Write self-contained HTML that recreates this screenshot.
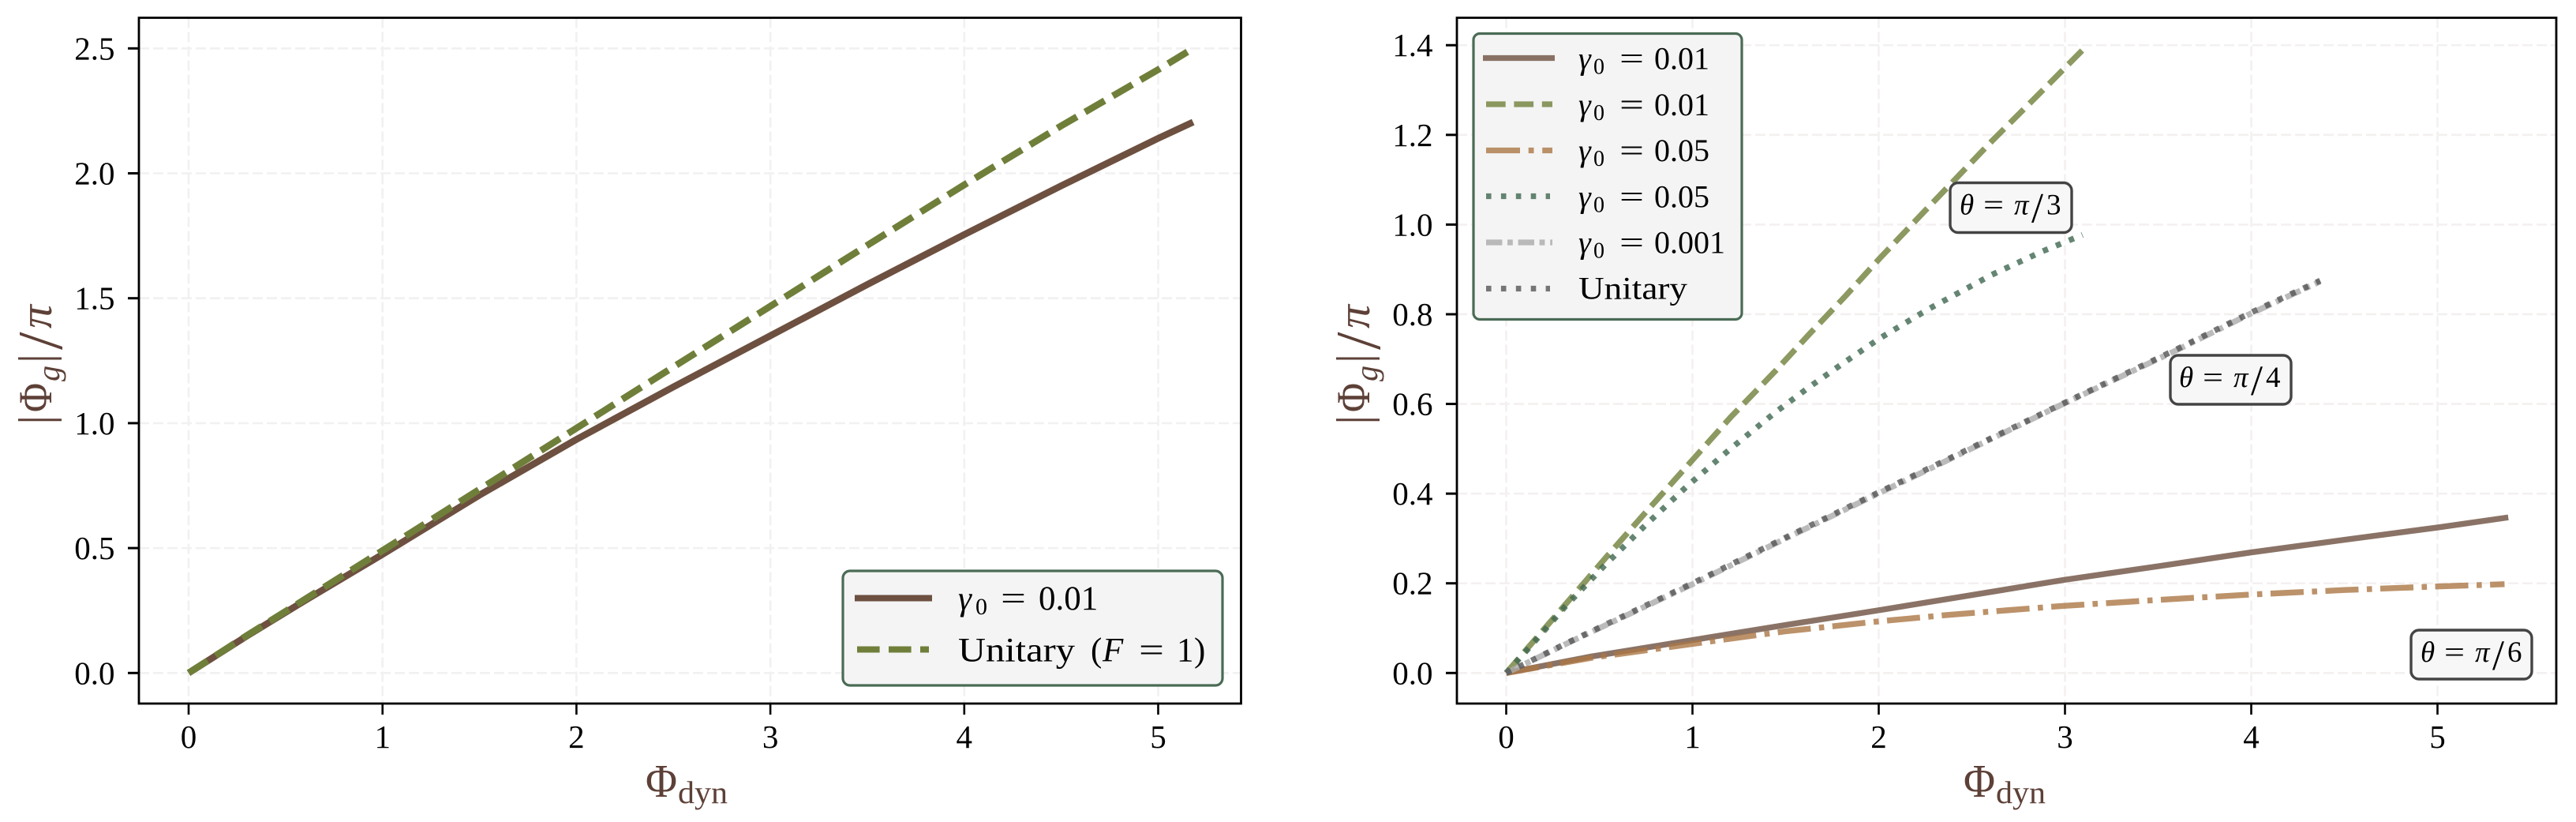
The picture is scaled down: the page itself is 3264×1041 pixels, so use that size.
<!DOCTYPE html>
<html lang="en">
<head>
<meta charset="utf-8">
<title>Geometric phase versus dynamical phase</title>
<style>
html,body{margin:0;padding:0;background:#fff;}
body{width:3264px;height:1041px;overflow:hidden;}
svg{display:block;font-family:"Liberation Serif","DejaVu Serif",serif;}
.tick{font-size:41px;fill:#000;}
.lab{fill:#5d4037;}
.it{font-style:italic;}
</style>
</head>
<body>
<svg id="figure" xmlns="http://www.w3.org/2000/svg" width="3264" height="1041" viewBox="0 0 3264 1041">
  <rect x="0" y="0" width="3264" height="1041" fill="#ffffff"/>

  <g id="left-panel">
    <g id="left-grid"></g>
    <g id="left-series"></g>
    <g id="left-axes"></g>

    <g class="lab">
      <text x="818" y="1009" font-size="59" textLength="40" lengthAdjust="spacingAndGlyphs">Φ</text>
      <text x="859" y="1017" font-size="40" textLength="63" lengthAdjust="spacingAndGlyphs">dyn</text>
    </g>
    <g class="lab" transform="translate(65,0) rotate(-90)">
      <text x="-537.7" y="0" font-size="60">|</text>
      <text x="-522" y="0" font-size="60" textLength="37" lengthAdjust="spacingAndGlyphs">Φ</text>
      <text x="-483" y="10" font-size="40" class="it">g</text>
      <text x="-460" y="0" font-size="60">|</text>
      <text x="-443" y="13" font-size="81">/</text>
      <text x="-416" y="0" font-size="58" class="it" textLength="30" lengthAdjust="spacingAndGlyphs">π</text>
    </g>

    <g>
      <rect x="1068" y="723" width="481" height="145" rx="9" fill="#f4f4f4" stroke="#4a6b55" stroke-width="3.2"/>
      <line x1="1083" x2="1181" y1="757.5" y2="757.5" stroke="#6d5040" stroke-width="8"/>
      <line x1="1086" x2="1177" y1="822.5" y2="822.5" stroke="#6f7f3a" stroke-width="8" stroke-dasharray="28.6,11.4"/>
      <g font-size="43">
        <text x="1214" y="772" class="it">γ</text>
        <text x="1236" y="778" font-size="30">0</text>
        <text x="1268" y="772" textLength="32" lengthAdjust="spacingAndGlyphs">=</text>
        <text x="1316" y="772">0.01</text>
      </g>
      <g font-size="43">
        <text x="1214" y="837.5" textLength="148" lengthAdjust="spacingAndGlyphs">Unitary</text>
        <text x="1382" y="837.5">(</text>
        <text x="1397" y="837.5" class="it">F</text>
        <text x="1443" y="837.5" textLength="32" lengthAdjust="spacingAndGlyphs">=</text>
        <text x="1491" y="837.5">1</text>
        <text x="1513" y="837.5">)</text>
      </g>
    </g>
  </g>

  <g id="right-panel">
    <g id="right-grid"></g>
    <g id="right-series"></g>
    <g id="right-axes"></g>

    <g class="lab">
      <text x="2488" y="1009" font-size="59" textLength="40" lengthAdjust="spacingAndGlyphs">Φ</text>
      <text x="2529" y="1017" font-size="40" textLength="63" lengthAdjust="spacingAndGlyphs">dyn</text>
    </g>
    <g class="lab" transform="translate(1735,0) rotate(-90)">
      <text x="-537.7" y="0" font-size="60">|</text>
      <text x="-522" y="0" font-size="60" textLength="37" lengthAdjust="spacingAndGlyphs">Φ</text>
      <text x="-483" y="10" font-size="40" class="it">g</text>
      <text x="-460" y="0" font-size="60">|</text>
      <text x="-443" y="13" font-size="81">/</text>
      <text x="-416" y="0" font-size="58" class="it" textLength="30" lengthAdjust="spacingAndGlyphs">π</text>
    </g>

    <g transform="translate(2483,271.5)" font-size="37">
      <rect x="-12" y="-40" width="154" height="63" rx="10" fill="#f7f7f7" stroke="#444444" stroke-width="3.4"/>
      <text x="0" y="0" class="it">θ</text>
      <text x="30" y="0" textLength="26" lengthAdjust="spacingAndGlyphs">=</text>
      <text x="69" y="0" class="it">π</text>
      <text x="91" y="10" font-size="54">/</text>
      <text x="110" y="0">3</text>
    </g>
    <g transform="translate(2761,490)" font-size="37">
      <rect x="-11" y="-40" width="153" height="62" rx="10" fill="#f7f7f7" stroke="#444444" stroke-width="3.4"/>
      <text x="0" y="0" class="it">θ</text>
      <text x="30" y="0" textLength="26" lengthAdjust="spacingAndGlyphs">=</text>
      <text x="69" y="0" class="it">π</text>
      <text x="91" y="10" font-size="54">/</text>
      <text x="110" y="0">4</text>
    </g>
    <g transform="translate(3067,838)" font-size="37">
      <rect x="-12" y="-40" width="153" height="62" rx="10" fill="#f7f7f7" stroke="#444444" stroke-width="3.4"/>
      <text x="0" y="0" class="it">θ</text>
      <text x="30" y="0" textLength="26" lengthAdjust="spacingAndGlyphs">=</text>
      <text x="69" y="0" class="it">π</text>
      <text x="91" y="10" font-size="54">/</text>
      <text x="110" y="0">6</text>
    </g>

    <g>
      <rect x="1867" y="42.5" width="340" height="362" rx="8" fill="#f4f4f4" stroke="#4a6b55" stroke-width="3.2"/>
      <line x1="1879" x2="1970" y1="73.5" y2="73.5" stroke="#6d5040" stroke-opacity="0.8" stroke-width="7.2"/>
      <line x1="1883" x2="1967" y1="132" y2="132" stroke="#6f7f3a" stroke-opacity="0.8" stroke-width="7.2" stroke-dasharray="24.7,10.7"/>
      <line x1="1883" x2="1967" y1="190.5" y2="190.5" stroke="#ab7745" stroke-opacity="0.8" stroke-width="7.2" stroke-dasharray="43,10.7,6.8,10.7"/>
      <line x1="1883" x2="1964" y1="248.5" y2="248.5" stroke="#3f6650" stroke-opacity="0.8" stroke-width="7.2" stroke-dasharray="6.6,12.3"/>
      <line x1="1883" x2="1967" y1="307" y2="307" stroke="#aaaaaa" stroke-opacity="0.8" stroke-width="7.2" stroke-dasharray="20.4,6.6,6.8,6.8"/>
      <line x1="1883" x2="1964" y1="365.5" y2="365.5" stroke="#555555" stroke-opacity="0.8" stroke-width="7.2" stroke-dasharray="6.6,12.3"/>

      <g font-size="40">
        <text x="2000" y="87.5" class="it">γ</text>
        <text x="2019" y="93.5" font-size="28">0</text>
        <text x="2052" y="87.5" textLength="31" lengthAdjust="spacingAndGlyphs">=</text>
        <text x="2096" y="87.5">0.01</text>
      </g>
      <g font-size="40">
        <text x="2000" y="146" class="it">γ</text>
        <text x="2019" y="152" font-size="28">0</text>
        <text x="2052" y="146" textLength="31" lengthAdjust="spacingAndGlyphs">=</text>
        <text x="2096" y="146">0.01</text>
      </g>
      <g font-size="40">
        <text x="2000" y="204" class="it">γ</text>
        <text x="2019" y="210" font-size="28">0</text>
        <text x="2052" y="204" textLength="31" lengthAdjust="spacingAndGlyphs">=</text>
        <text x="2096" y="204">0.05</text>
      </g>
      <g font-size="40">
        <text x="2000" y="262.5" class="it">γ</text>
        <text x="2019" y="268.5" font-size="28">0</text>
        <text x="2052" y="262.5" textLength="31" lengthAdjust="spacingAndGlyphs">=</text>
        <text x="2096" y="262.5">0.05</text>
      </g>
      <g font-size="40">
        <text x="2000" y="320.5" class="it">γ</text>
        <text x="2019" y="326.5" font-size="28">0</text>
        <text x="2052" y="320.5" textLength="31" lengthAdjust="spacingAndGlyphs">=</text>
        <text x="2096" y="320.5">0.001</text>
      </g>
      <text x="2000" y="378.5" font-size="40" textLength="138" lengthAdjust="spacingAndGlyphs">Unitary</text>
    </g>
  </g>
</svg>

<script>
// ---- left panel data ----
const leftXTicks = [0, 1, 2, 3, 4, 5];
const leftYTicks = [0, 0.5, 1, 1.5, 2, 2.5];
const leftYTickLabels = ["0.0", "0.5", "1.0", "1.5", "2.0", "2.5"];
const leftPhiDyn = [0, 0.3, 0.6, 1, 1.5, 2, 2.5, 3, 3.5, 4, 4.5, 5, 5.18];
const leftGamma001 = [0, 0.148, 0.29, 0.475, 0.712, 0.935, 1.145, 1.35, 1.555, 1.755, 1.95, 2.14, 2.205];
const leftUnitary = [0, 0.15, 0.295, 0.49, 0.735, 0.98, 1.225, 1.468, 1.712, 1.954, 2.19, 2.415, 2.5];

// ---- right panel data ----
const rightXTicks = [0, 1, 2, 3, 4, 5];
const rightYTicks = [0, 0.2, 0.4, 0.6, 0.8, 1, 1.2, 1.4];
const rightYTickLabels = ["0.0", "0.2", "0.4", "0.6", "0.8", "1.0", "1.2", "1.4"];
const phiDynPi3 = [0, 0.114, 0.316, 0.53, 0.746, 0.972, 1.204, 1.444, 1.628, 1.82, 2.006, 2.265, 2.607, 2.877, 3.094];
const pi3Gamma001 = [0, 0.055, 0.152, 0.255, 0.357, 0.462, 0.57, 0.673, 0.756, 0.84, 0.925, 1.038, 1.186, 1.298, 1.389];
const pi3Gamma005 = [0, 0.052, 0.1476, 0.2405, 0.329, 0.417, 0.5, 0.581, 0.638, 0.694, 0.7465, 0.811, 0.888, 0.94, 0.977];
const phiDynPi4 = [0, 0.352, 1, 1.5, 2.006, 2.307, 2.985, 3.6, 4, 4.37];
const pi4Gamma0001 = [0, 0.071, 0.198, 0.3, 0.402, 0.462, 0.599, 0.72, 0.802, 0.873];
const pi4Unitary = [0, 0.072, 0.2, 0.302, 0.404, 0.464, 0.6, 0.722, 0.804, 0.875];
const phiDynPi6Solid = [0, 0.46, 1, 1.5, 2.006, 2.32, 2.985, 3.5, 4, 4.5, 5, 5.38];
const pi6Gamma001 = [0, 0.037, 0.0734, 0.107, 0.1403, 0.1616, 0.207, 0.238, 0.269, 0.297, 0.3245, 0.347];
const phiDynPi6Tan = [0, 0.46, 1.108, 1.5, 1.973, 2.37, 2.985, 3.5, 4, 4.5, 5, 5.36];
const pi6Gamma005 = [0, 0.034, 0.071, 0.093, 0.114, 0.1295, 0.1495, 0.163, 0.175, 0.185, 0.193, 0.198];

// ---- axis functions ----
function leftX(v) { return 239 + 245.7 * v; }
function leftY(v) { return 852.3 - 316.4 * v; }
function rightX(v) { return 1908.5 + 236 * v; }
function rightY(v) { return 852.3 - 567.9 * v; }

const SVG_NS = "http://www.w3.org/2000/svg";

function make(tag, parent, attrs) {
  const el = document.createElementNS(SVG_NS, tag);
  Object.keys(attrs).forEach(function (k) { el.setAttribute(k, attrs[k]); });
  parent.appendChild(el);
  return el;
}

function drawGrid(layer, frame, xTicks, yTicks, xFn, yFn, color) {
  xTicks.forEach(function (t) {
    const el = make("line", layer, {
      x1: xFn(t), x2: xFn(t), y1: frame.top, y2: frame.bottom,
      stroke: color, "stroke-width": 2.6, "stroke-dasharray": "13,5"
    });
    
    
  });
  yTicks.forEach(function (t) {
    const el = make("line", layer, {
      x1: frame.left, x2: frame.right, y1: yFn(t), y2: yFn(t),
      stroke: color, "stroke-width": 2.6, "stroke-dasharray": "13,5"
    });
    
    
  });
}

function drawAxes(layer, frame, xTicks, yTicks, yLabels, xFn, yFn) {
  const box = make("rect", layer, {
    x: frame.left, y: frame.top,
    width: frame.right - frame.left, height: frame.bottom - frame.top,
    fill: "none", stroke: "#000000", "stroke-width": 2.8
  });
  
  

  xTicks.forEach(function (t) {
    const mark = make("line", layer, {
      x1: xFn(t), x2: xFn(t), y1: frame.bottom, y2: frame.bottom + 14,
      stroke: "#000000", "stroke-width": 2.6
    });
    
    
    const label = make("text", layer, { x: xFn(t), y: 947, "text-anchor": "middle", "class": "tick" });
    
    
    label.textContent = String(t);
  });

  yTicks.forEach(function (t, i) {
    const mark = make("line", layer, {
      x1: frame.left - 14, x2: frame.left, y1: yFn(t), y2: yFn(t),
      stroke: "#000000", "stroke-width": 3
    });
    
    
    const label = make("text", layer, { x: frame.left - 30.5, y: yFn(t) + 14, "text-anchor": "end", "class": "tick" });
    
    
    label.textContent = yLabels[i];
  });
}

function pathFrom(xs, ys, xFn, yFn) {
  return xs.map(function (x, i) {
    return (i ? "L" : "M") + xFn(x).toFixed(2) + " " + yFn(ys[i]).toFixed(2);
  }).join(" ");
}

function drawSeries(layer, name, xs, ys, xFn, yFn, style) {
  const el = make("path", layer, {
    d: pathFrom(xs, ys, xFn, yFn),
    fill: "none",
    stroke: style.color,
    "stroke-opacity": style.opacity,
    "stroke-width": style.width,
    "stroke-dasharray": style.dash,
    "stroke-linejoin": "round"
  });
  
  
}

const leftFrame = { left: 176, right: 1572.5, top: 22.5, bottom: 891 };
const rightFrame = { left: 1846, right: 3239, top: 22.5, bottom: 891 };

const $ = function (id) { return document.getElementById(id); };

drawGrid($("left-grid"), leftFrame, leftXTicks, leftYTicks, leftX, leftY, "#f1f1f1");
drawSeries($("left-series"), "series-gamma-0.01", leftPhiDyn, leftGamma001, leftX, leftY,
  { color: "#6d5040", opacity: 1, width: 8.6, dash: "none" });
drawSeries($("left-series"), "series-unitary", leftPhiDyn, leftUnitary, leftX, leftY,
  { color: "#6f7f3a", opacity: 1, width: 8.6, dash: "28.6,12" });
drawAxes($("left-axes"), leftFrame, leftXTicks, leftYTicks, leftYTickLabels, leftX, leftY);

drawGrid($("right-grid"), rightFrame, rightXTicks, rightYTicks, rightX, rightY, "#f4f0f0");
drawSeries($("right-series"), "series-pi6-gamma-0.01", phiDynPi6Solid, pi6Gamma001, rightX, rightY,
  { color: "#6d5040", opacity: 0.8, width: 7.4, dash: "none" });
drawSeries($("right-series"), "series-pi6-gamma-0.05", phiDynPi6Tan, pi6Gamma005, rightX, rightY,
  { color: "#ab7745", opacity: 0.8, width: 7.4, dash: "42,10.5,6.6,10.5" });
drawSeries($("right-series"), "series-pi3-gamma-0.01", phiDynPi3, pi3Gamma001, rightX, rightY,
  { color: "#6f7f3a", opacity: 0.8, width: 7.4, dash: "24.5,10.5" });
drawSeries($("right-series"), "series-pi3-gamma-0.05", phiDynPi3, pi3Gamma005, rightX, rightY,
  { color: "#3f6650", opacity: 0.8, width: 7.4, dash: "6.8,11" });
drawSeries($("right-series"), "series-pi4-gamma-0.001", phiDynPi4, pi4Gamma0001, rightX, rightY,
  { color: "#aaaaaa", opacity: 0.8, width: 7.4, dash: "20.4,6.6,6.8,6.8" });
drawSeries($("right-series"), "series-pi4-unitary", phiDynPi4, pi4Unitary, rightX, rightY,
  { color: "#555555", opacity: 0.8, width: 7.4, dash: "6.8,11" });
drawAxes($("right-axes"), rightFrame, rightXTicks, rightYTicks, rightYTickLabels, rightX, rightY);
</script>
</body>
</html>
